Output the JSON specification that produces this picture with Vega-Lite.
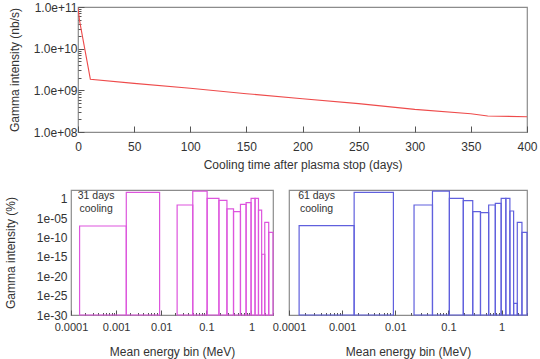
{
  "$schema": "https://vega.github.io/schema/vega-lite/v6.json",
  "padding": {"left": 3, "top": 0, "right": 4, "bottom": 0},
  "config": {
    "font": "Liberation Sans",
    "view": {"stroke": "#8c8c8c", "strokeWidth": 1.2},
    "axis": {
      "labelFont": "Liberation Sans", "labelFontSize": 12, "labelColor": "#333333",
      "titleFont": "Liberation Sans", "titleFontSize": 12, "titleFontWeight": "normal", "titleColor": "#333333",
      "grid": false, "domain": false, "tickColor": "#555555", "labelFlush": false, "labelOverlap": false
    }
  },
  "datasets": {
    "decay": [
      {"day": 0, "gamma": 9.5e10},
      {"day": 1.5, "gamma": 4.5e10},
      {"day": 11, "gamma": 1.85e9},
      {"day": 50, "gamma": 1.47e9},
      {"day": 100, "gamma": 1.12e9},
      {"day": 150, "gamma": 8.3e8},
      {"day": 200, "gamma": 6.3e8},
      {"day": 250, "gamma": 4.8e8},
      {"day": 300, "gamma": 3.5e8},
      {"day": 350, "gamma": 2.75e8},
      {"day": 365, "gamma": 2.42e8},
      {"day": 400, "gamma": 2.33e8}
    ],
    "bins31": [
      {"lo": 0.000155, "hi": 0.00168, "pct": 1e-7},
      {"lo": 0.00168, "hi": 0.0092, "pct": 51},
      {"lo": 0.0225, "hi": 0.05, "pct": 0.027},
      {"lo": 0.05, "hi": 0.104, "pct": 100},
      {"lo": 0.104, "hi": 0.19, "pct": 1.4},
      {"lo": 0.19, "hi": 0.286, "pct": 0.44},
      {"lo": 0.286, "hi": 0.4, "pct": 0.0025},
      {"lo": 0.4, "hi": 0.57, "pct": 0.0005},
      {"lo": 0.57, "hi": 0.76, "pct": 0.04},
      {"lo": 0.76, "hi": 0.98, "pct": 0.105},
      {"lo": 0.98, "hi": 1.2, "pct": 1.4},
      {"lo": 1.2, "hi": 1.43, "pct": 1.4},
      {"lo": 1.43, "hi": 1.68, "pct": 0.0013},
      {"lo": 1.68, "hi": 1.97, "pct": 5e-15},
      {"lo": 1.97, "hi": 2.41, "pct": 9e-7},
      {"lo": 2.41, "hi": 3.0, "pct": 2.3e-9}
    ],
    "bins61": [
      {"lo": 0.000155, "hi": 0.00168, "pct": 1.2e-7},
      {"lo": 0.00168, "hi": 0.0092, "pct": 51},
      {"lo": 0.0225, "hi": 0.05, "pct": 0.027},
      {"lo": 0.05, "hi": 0.104, "pct": 100},
      {"lo": 0.104, "hi": 0.19, "pct": 1.43},
      {"lo": 0.19, "hi": 0.286, "pct": 0.35},
      {"lo": 0.286, "hi": 0.4, "pct": 0.0005},
      {"lo": 0.4, "hi": 0.57, "pct": 0.00027},
      {"lo": 0.57, "hi": 0.76, "pct": 0.027},
      {"lo": 0.76, "hi": 0.98, "pct": 0.072},
      {"lo": 0.98, "hi": 1.2, "pct": 1.43},
      {"lo": 1.2, "hi": 1.43, "pct": 1.43},
      {"lo": 1.43, "hi": 1.68, "pct": 0.00074},
      {"lo": 1.68, "hi": 1.97, "pct": 1e-27},
      {"lo": 1.97, "hi": 2.41, "pct": 9e-7},
      {"lo": 2.41, "hi": 3.0, "pct": 2.3e-9}
    ]
  },
  "spacing": 18,
  "vconcat": [
    {
      "bounds": "flush",
      "spacing": 0,
      "hconcat": [
        {
          "width": 7, "height": 125,
          "view": {"stroke": null},
          "data": {"values": []},
          "mark": "text",
          "encoding": {}
        },
        {
          "width": 449, "height": 125,
          "data": {"name": "decay"},
          "mark": {"type": "line", "color": "#ee4b4b", "strokeWidth": 1.1, "clip": true},
          "encoding": {
            "x": {
              "field": "day", "type": "quantitative",
              "scale": {"domain": [0, 400], "nice": false},
              "axis": {
                "title": "Cooling time after plasma stop (days)",
                "values": [0, 50, 100, 150, 200, 250, 300, 350, 400],
                "tickSize": -6, "labelPadding": 15, "titlePadding": 7
              }
            },
            "y": {
              "field": "gamma", "type": "quantitative",
              "scale": {"type": "log", "domain": [1e8, 1e11], "nice": false},
              "axis": {
                "title": "Gamma intensity (nb/s)",
                "values": [1e8, 2e8, 3e8, 4e8, 5e8, 6e8, 7e8, 8e8, 9e8, 1e9, 2e9, 3e9, 4e9, 5e9, 6e9, 7e9, 8e9, 9e9, 1e10, 2e10, 3e10, 4e10, 5e10, 6e10, 7e10, 8e10, 9e10, 1e11],
                "labelExpr": "abs(log(datum.value)/LN10 - round(log(datum.value)/LN10)) < 0.001 ? '1.0e+' + (round(log(datum.value)/LN10) < 10 ? '0' : '') + round(log(datum.value)/LN10) : ''",
                "tickSize": {"condition": {"test": "abs(log(datum.value)/LN10 - round(log(datum.value)/LN10)) < 0.001", "value": -6}, "value": -3},
                "labelPadding": 7, "titlePadding": 12
              }
            }
          }
        }
      ]
    },
    {
      "bounds": "flush",
      "spacing": 16,
      "hconcat": [
        {
          "width": 202, "height": 125,
          "layer": [
            {
              "data": {"name": "bins31"},
              "mark": {"type": "rect", "fillOpacity": 0, "stroke": "#dd55dd", "strokeWidth": 1.2},
              "encoding": {
                "x": {
                  "field": "lo", "type": "quantitative",
                  "scale": {"type": "log", "domain": [0.0001, 3], "nice": false},
                  "axis": {
                    "title": "Mean energy bin (MeV)",
                    "values": [0.0001, 0.0002, 0.0003, 0.0004, 0.0005, 0.0006, 0.0007, 0.0008, 0.0009, 0.001, 0.002, 0.003, 0.004, 0.005, 0.006, 0.007, 0.008, 0.009, 0.01, 0.02, 0.03, 0.04, 0.05, 0.06, 0.07, 0.08, 0.09, 0.1, 0.2, 0.3, 0.4, 0.5, 0.6, 0.7, 0.8, 0.9, 1, 2, 3],
                    "labelExpr": "abs(log(datum.value)/LN10 - round(log(datum.value)/LN10)) < 0.001 ? format(datum.value, '~g') : ''",
                    "tickSize": {"condition": {"test": "abs(log(datum.value)/LN10 - round(log(datum.value)/LN10)) < 0.001", "value": -5}, "value": -2.5},
                    "labelFontSize": 11, "labelPadding": 11, "titlePadding": 12
                  }
                },
                "x2": {"field": "hi"},
                "y": {
                  "field": "pct", "type": "quantitative",
                  "scale": {"type": "log", "domain": [1e-30, 200], "nice": false},
                  "axis": {
                    "title": "Gamma intensity (%)",
                    "values": [1e-30, 1e-25, 1e-20, 1e-15, 1e-10, 1e-5, 1],
                    "labelExpr": "datum.value >= 0.5 ? '1' : '1e-' + (round(-log(datum.value)/LN10) < 10 ? '0' : '') + round(-log(datum.value)/LN10)",
                    "ticks": false, "labelPadding": 4, "titlePadding": 19
                  }
                },
                "y2": {"datum": 1e-30}
              }
            },
            {
              "data": {"values": [{"note": "31 days\ncooling"}]},
              "mark": {"type": "text", "align": "center", "baseline": "top", "fontSize": 10.5, "lineHeight": 12.5, "lineBreak": "\n", "color": "#333333"},
              "encoding": {
                "x": {"datum": 0.00036},
                "y": {"datum": 110},
                "text": {"field": "note"}
              }
            }
          ]
        },
        {
          "width": 238, "height": 125,
          "layer": [
            {
              "data": {"name": "bins61"},
              "mark": {"type": "rect", "fillOpacity": 0, "stroke": "#6060dd", "strokeWidth": 1.2},
              "encoding": {
                "x": {
                  "field": "lo", "type": "quantitative",
                  "scale": {"type": "log", "domain": [0.0001, 3], "nice": false},
                  "axis": {
                    "title": "Mean energy bin (MeV)",
                    "values": [0.0001, 0.0002, 0.0003, 0.0004, 0.0005, 0.0006, 0.0007, 0.0008, 0.0009, 0.001, 0.002, 0.003, 0.004, 0.005, 0.006, 0.007, 0.008, 0.009, 0.01, 0.02, 0.03, 0.04, 0.05, 0.06, 0.07, 0.08, 0.09, 0.1, 0.2, 0.3, 0.4, 0.5, 0.6, 0.7, 0.8, 0.9, 1, 2, 3],
                    "labelExpr": "abs(log(datum.value)/LN10 - round(log(datum.value)/LN10)) < 0.001 ? format(datum.value, '~g') : ''",
                    "tickSize": {"condition": {"test": "abs(log(datum.value)/LN10 - round(log(datum.value)/LN10)) < 0.001", "value": -5}, "value": -2.5},
                    "labelFontSize": 11, "labelPadding": 11, "titlePadding": 12
                  }
                },
                "x2": {"field": "hi"},
                "y": {
                  "field": "pct", "type": "quantitative",
                  "scale": {"type": "log", "domain": [1e-30, 200], "nice": false},
                  "axis": null
                },
                "y2": {"datum": 1e-30}
              }
            },
            {
              "data": {"values": [{"note": "61 days\ncooling"}]},
              "mark": {"type": "text", "align": "center", "baseline": "top", "fontSize": 10.5, "lineHeight": 12.5, "lineBreak": "\n", "color": "#333333"},
              "encoding": {
                "x": {"datum": 0.00033},
                "y": {"datum": 110},
                "text": {"field": "note"}
              }
            }
          ]
        }
      ]
    }
  ]
}
